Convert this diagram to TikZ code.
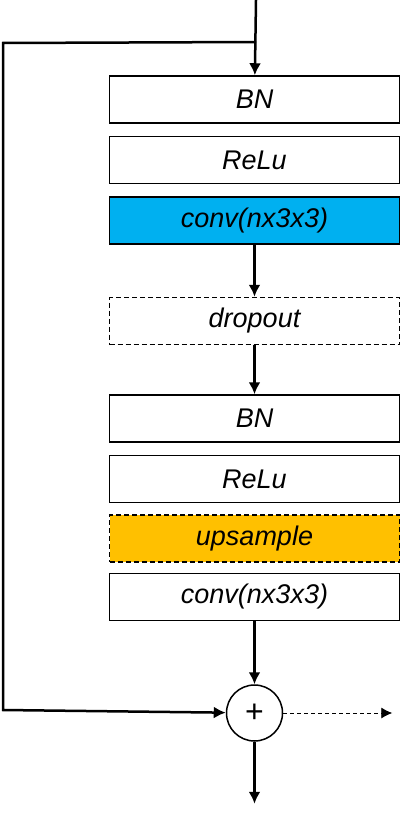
\documentclass[tikz,border=0pt]{standalone}
\usepackage{fontspec}
\setmainfont{Liberation Sans}
\usetikzlibrary{arrows.meta,shapes,positioning}
\tikzset{
  basic/.style  = {draw, line width=1.5pt, rectangle, font=\fontsize{27}{30}\selectfont\itshape,
                   minimum width=290pt, minimum height=47pt, inner sep=0pt},
  layer/.style  = {basic},
  extra/.style  = {basic, dash pattern=on 5pt off 3pt},
  sum/.style    = {draw, circle, line width=1.5pt, minimum size=56pt, inner sep=0pt,
                   font=\fontsize{32}{30}\selectfont},
  flow/.style   = {line width=2.5pt, -{Latex[length=12pt,width=12pt]}},
  side/.style   = {line width=0.8pt, dash pattern=on 4pt off 3pt, -{Latex[length=11pt,width=11pt]}}
}
\begin{document}
\begin{tikzpicture}[x=1pt,y=1pt]
  \useasboundingbox (0,0) rectangle (407,-813);
  \coordinate (in) at (256,0);
  \coordinate (split) at (256,-42);
  \coordinate (skiptop) at (3,-43);
  % first half
  \node[layer] (bn1) at (254.5,-99.5) {BN};
  \node[layer, below=12pt of bn1] (relu1) {ReLu};
  \node[layer, below=12pt of relu1, fill={rgb,255:red,0;green,176;blue,240}] (conv1) {conv(nx3x3)};
  \node[extra, below=52pt of conv1] (drop) {dropout};
  % second half
  \node[layer, below=49pt of drop] (bn2) {BN};
  \node[layer, below=12pt of bn2] (relu2) {ReLu};
  \node[extra, below=11pt of relu2, fill={rgb,255:red,255;green,192;blue,0}] (up) {upsample};
  \node[layer, below=10pt of up] (conv2) {conv(nx3x3)};
  \node[sum, below=63pt of conv2] (sum) {+};
  \coordinate (skipbot) at (3,-710);
  \coordinate[right=109pt of sum.east] (aux);
  \coordinate[below=62pt of sum.south] (out);
  % connectors
  \draw[flow] (in) -- (bn1);
  \draw[flow] (conv1) -- (drop);
  \draw[flow] (drop) -- (bn2);
  \draw[flow] (conv2) -- (sum);
  \draw[flow] (split) -- (skiptop) -- (skipbot) -- (sum);
  \draw[flow] (sum) -- (out);
  \draw[side] (sum) -- (aux);
\end{tikzpicture}
\end{document}
